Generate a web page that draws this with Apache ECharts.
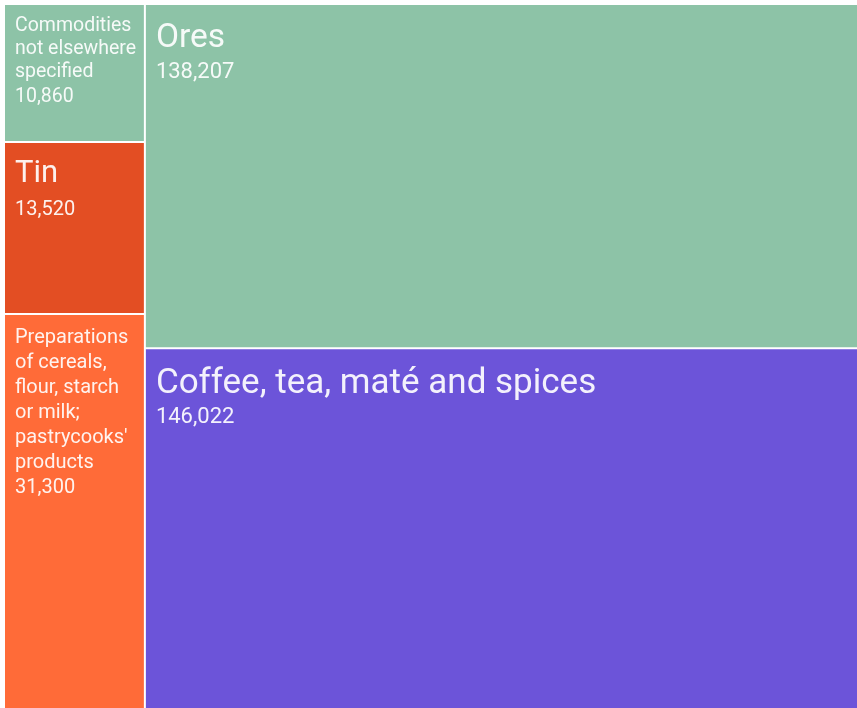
<!DOCTYPE html>
<html>
<head>
<meta charset="utf-8">
<script src="https://cdn.jsdelivr.net/npm/echarts@6/dist/echarts.min.js"></script>
<style>
  html, body { margin: 0; padding: 0; background: #ffffff; }
  #chart { width: 857px; height: 708px; }
</style>
</head>
<body>
<div id="chart"></div>
<script>
// ---- data ----
const categories = [
  "Commodities not elsewhere specified",
  "Tin",
  "Preparations of cereals, flour, starch or milk; pastrycooks' products",
  "Ores",
  "Coffee, tea, maté and spices"
];
const values = [10860, 13520, 31300, 138207, 146022];

// ---- styles (kept apart from the data) ----
const palette       = ["#8dc3a7", "#e34e23", "#ff6b38", "#8dc3a7", "#6c54d9"];
const nameFontSize  = [19.5, 31, 20, 33.5, 35];
const nameLineH     = [23, 42, 25, 46.6, 50];
const valueFontSize = [19.5, 20, 20, 22, 22];
const valueLineH    = [27, 29, 25, 22, 17];

const textColor = 'rgba(255,255,255,0.92)';
const PAD = [10, 3, 10, 10];

// word wrapping helper (measures with the same font the label uses)
const measureCtx = document.createElement('canvas').getContext('2d');
function wrapWords(text, fontSize, maxW) {
  measureCtx.font = fontSize + 'px Roboto';
  const words = text.split(' ');
  const lines = [];
  let cur = '';
  for (const w of words) {
    const t = cur ? cur + ' ' + w : w;
    if (!cur || measureCtx.measureText(t).width <= maxW) cur = t;
    else { lines.push(cur); cur = w; }
  }
  if (cur) lines.push(cur);
  return lines.join('\n');
}

let wrapped = categories.slice();

function buildData() {
  return categories.map((name, i) => ({
    name: name,
    value: values[i],
    itemStyle: { color: palette[i] },
    label: {
      formatter: () => '{n|' + wrapped[i] + '}{v|\n' + echarts.format.addCommas(values[i]) + '}',
      rich: {
        n: { fontSize: nameFontSize[i], lineHeight: nameLineH[i], fontFamily: 'Roboto', color: textColor },
        v: { fontSize: valueFontSize[i], lineHeight: valueLineH[i], fontFamily: 'Roboto', color: textColor }
      }
    }
  }));
}

const chart = echarts.init(document.getElementById('chart'), null, { renderer: 'canvas' });
function render() {
  chart.setOption({
    animation: false,
    series: [{
      type: 'treemap',
      left: 5, top: 5, right: -6, bottom: -3,
      roam: false,
      nodeClick: false,
      breadcrumb: { show: false },
      sort: 'asc',
      squareRatio: 1.5,
      levels: [{ itemStyle: { gapWidth: 2, borderWidth: 0 } }],
      itemStyle: { borderWidth: 0, gapWidth: 0 },
      emphasis: { disabled: true },
      label: {
        show: true,
        position: 'insideTopLeft',
        padding: PAD,
        overflow: 'none',
        color: textColor,
        fontFamily: 'Roboto'
      },
      data: buildData()
    }]
  }, true);
}
render();

// read the cell widths the library computed, then wrap names to fit
try {
  const sd = chart.getModel().getSeriesByIndex(0).getData();
  for (let k = 0; k < sd.count(); k++) {
    const idx = categories.indexOf(sd.getName(k));
    const lay = sd.getItemLayout(k);
    if (idx >= 0 && lay && lay.width) {
      wrapped[idx] = wrapWords(categories[idx], nameFontSize[idx], lay.width - PAD[1] - PAD[3]);
    }
  }
  render();
} catch (e) { console.error(e); }
</script>
</body>
</html>
